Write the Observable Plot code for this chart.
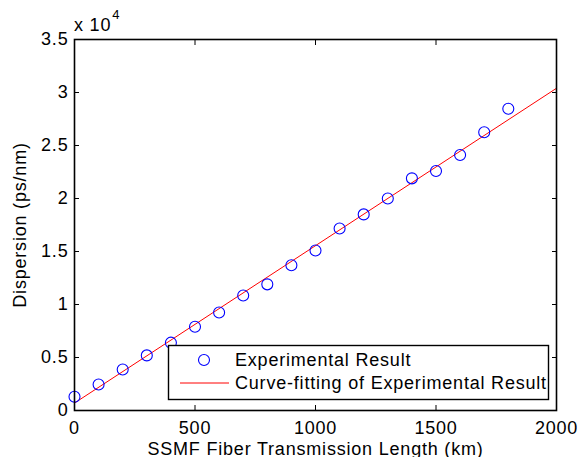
<!DOCTYPE html>
<html>
<head>
<meta charset="utf-8">
<script src="https://cdn.jsdelivr.net/npm/d3@7"></script>
<script src="https://cdn.jsdelivr.net/npm/@observablehq/plot@0.6"></script>
<style>
  html, body { margin: 0; padding: 0; background: #fff; }
  #wrap { position: relative; width: 581px; height: 457px; font-family: "Liberation Sans", Arial, sans-serif; }
  #wrap svg text { letter-spacing: 0.8px; }
  .overlay { position: absolute; left: 0; top: 0; pointer-events: none; }
</style>
</head>
<body>
<div id="wrap"></div>
<script>
// ---- data ----
const lengthKm = [0, 100, 200, 300, 400, 500, 600, 700, 800, 900, 1000, 1100, 1200, 1300, 1400, 1500, 1600, 1700, 1800];
const dispersion = [1300, 2450, 3870, 5200, 6400, 7900, 9250, 10850, 11900, 13700, 15100, 17170, 18500, 20000, 21900, 22600, 24100, 26250, 28460];
const fitLengthKm = [0, 2000];
const fitDispersion = [700, 30400];
const xTicks = [0, 500, 1000, 1500, 2000];
const xTickLabels = ["0", "500", "1000", "1500", "2000"];
const yTicks = [0, 5000, 10000, 15000, 20000, 25000, 30000, 35000];
const yTickLabels = ["0", "0.5", "1", "1.5", "2", "2.5", "3", "3.5"];
const seriesNames = ["Experimental Result", "Curve-fitting of Experimental Result"];
const xLabel = "SSMF Fiber Transmission Length (km)";
const yLabel = "Dispersion (ps/nm)";
const exponentBase = "x 10";
const exponent = "4";

const points = lengthKm.map((x, i) => ({x, y: dispersion[i]}));
const fit = fitLengthKm.map((x, i) => ({x, y: fitDispersion[i]}));

const chart = Plot.plot({
  width: 581,
  height: 457,
  marginLeft: 74,
  marginRight: 25,
  marginTop: 39,
  marginBottom: 47,
  style: {fontFamily: "Liberation Sans, Arial, sans-serif", fontSize: "18px", color: "#000", background: "#fff"},
  x: {domain: [0, 2000]},
  y: {domain: [0, 35000]},
  marks: [
    Plot.axisX({ticks: xTicks, tickSize: -5, tickPadding: 16, stroke: "#000", tickFormat: (d) => xTickLabels[xTicks.indexOf(d)], label: xLabel, labelAnchor: "center", labelArrow: "none", labelOffset: 44}),
    Plot.axisX({anchor: "top", ticks: xTicks, tickSize: -5, tickFormat: () => "", label: null}),
    Plot.axisY({ticks: yTicks, tickSize: -5, tickPadding: 11, tickFormat: (d) => yTickLabels[yTicks.indexOf(d)], label: yLabel, labelAnchor: "center", labelArrow: "none", labelOffset: 61}),
    Plot.axisY({anchor: "right", ticks: yTicks, tickSize: -5, tickFormat: () => "", label: null}),
    Plot.line(fit, {x: "x", y: "y", stroke: "#ff0000", strokeWidth: 1}),
    Plot.dot(points, {x: "x", y: "y", r: 5.5, stroke: "#0000ff", strokeWidth: 1.1, fill: "none"}),
    Plot.frame({stroke: "#000", strokeWidth: 1.6})
  ]
});

const wrap = document.getElementById("wrap");
wrap.appendChild(chart);

// exponent label and legend overlay
const ov = d3.select(wrap).append("svg")
  .attr("class", "overlay")
  .attr("width", 581).attr("height", 457)
  .style("font-family", "Liberation Sans, Arial, sans-serif");

const expText = ov.append("text").attr("x", 74).attr("y", 31).attr("font-size", 18).style("letter-spacing", "0.8px");
expText.append("tspan").text(exponentBase);
expText.append("tspan").attr("dy", -12).attr("font-size", 13).attr("dx", 1).text(exponent);

const lg = ov.append("g");
lg.append("rect").attr("x", 168.5).attr("y", 345.5).attr("width", 380).attr("height", 54)
  .attr("fill", "#fff").attr("stroke", "#000").attr("stroke-width", 1.4);
lg.append("circle").attr("cx", 204).attr("cy", 360).attr("r", 5.5).attr("fill", "none").attr("stroke", "#0000ff").attr("stroke-width", 1.1);
lg.append("line").attr("x1", 180).attr("x2", 229).attr("y1", 383).attr("y2", 383).attr("stroke", "#ff0000").attr("stroke-width", 1);
lg.selectAll("text.lab").data(seriesNames).join("text")
  .attr("class", "lab")
  .attr("x", 235)
  .attr("y", (d, i) => 366 + i * 23)
  .attr("font-size", 18)
  .style("letter-spacing", "0.8px")
  .text(d => d);
</script>
</body>
</html>
